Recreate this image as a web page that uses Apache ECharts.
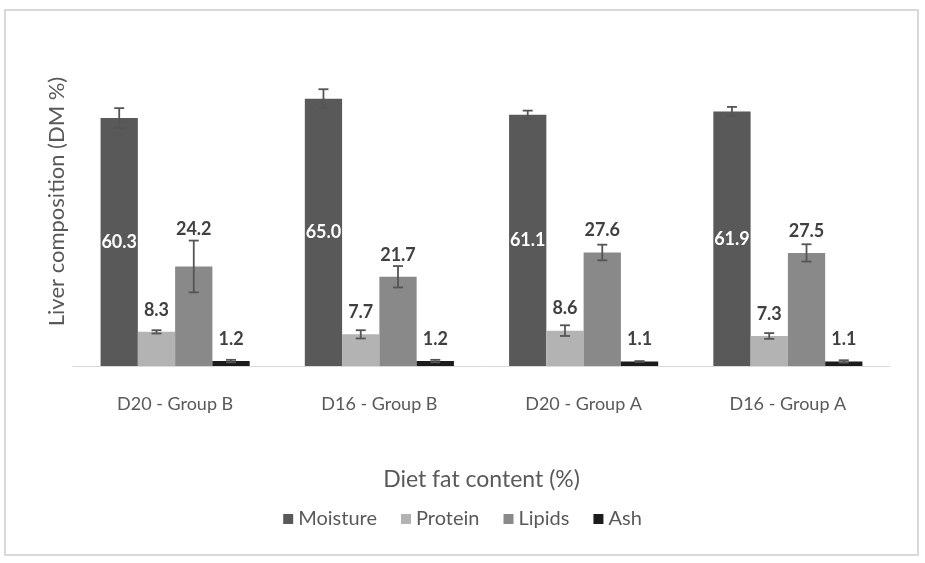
<!DOCTYPE html>
<html>
<head>
<meta charset="utf-8">
<script src="https://cdn.jsdelivr.net/npm/echarts@6/dist/echarts.min.js"></script>
<style>
  html, body { margin: 0; padding: 0; background: #fff; }
  #chart { width: 925px; height: 563px; }
</style>
</head>
<body>
<div id="chart"></div>
<script>
// groups on the x axis
const groups = ['D20 - Group B', 'D16 - Group B', 'D20 - Group A', 'D16 - Group A'];

// liver composition values (DM %)
const moisture = [60.3, 65.0, 61.1, 61.9];
const protein = [8.3, 7.7, 8.6, 7.3];
const lipids = [24.2, 21.7, 27.6, 27.5];
const ash = [1.2, 1.2, 1.1, 1.1];

// error bar half-lengths
const moistureErr = [2.4, 2.3, 1.0, 1.1];
const proteinErr = [0.4, 1.0, 1.3, 0.7];
const lipidsErr = [6.3, 2.6, 1.9, 2.1];
const ashErr = [0.3, 0.3, 0.1, 0.3];

const names = ['Moisture', 'Protein', 'Lipids', 'Ash'];
const colors = ['#595959', '#b3b3b3', '#898989', '#1c1c1c'];
const values = [moisture, protein, lipids, ash];
const errors = [moistureErr, proteinErr, lipidsErr, ashErr];

const catGap = 0.27;
const font = 'Lato, "Open Sans", sans-serif';

let chart = echarts.init(document.getElementById('chart'));

function errorSeries(idx) {
  return {
    name: names[idx],
    type: 'custom',
    z: 5,
    silent: true,
    data: values[idx].map((v, j) => [j, v, errors[idx][j]]),
    renderItem: (params, api) => {
      let j = api.value(0), v = api.value(1), e = api.value(2);
      let band = api.size([1, 0])[0];
      let barW = band * (1 - catGap) / 4;
      let cx = api.coord([j, 0])[0] + (idx - 1.5) * barW;
      let yHi = api.coord([j, v + e])[1];
      let yLo = api.coord([j, v - e])[1];
      let yBar = api.coord([j, v])[1];
      let st = { stroke: '#555555', lineWidth: 1.8 };
      let kids = [
        { type: 'line', shape: { x1: cx, y1: yHi, x2: cx, y2: yLo }, style: st },
        { type: 'line', shape: { x1: cx - 5, y1: yHi, x2: cx + 5, y2: yHi }, style: st },
        { type: 'line', shape: { x1: cx - 5, y1: yLo, x2: cx + 5, y2: yLo }, style: st }
      ];
      if (idx > 0) {
        // label sits above the bar, or above the cap when the cap is higher
        kids.push({
          type: 'text',
          style: {
            text: v.toFixed(1),
            x: cx,
            y: Math.min(yBar - 22, yHi - 11),
            align: 'center',
            verticalAlign: 'middle',
            fill: '#404040',
            font: 'bold 18px ' + font
          }
        });
      }
      return { type: 'group', children: kids };
    }
  };
}

let barSeries = names.map((n, i) => ({
  name: n,
  type: 'bar',
  barGap: 0,
  barCategoryGap: (catGap * 100) + '%',
  itemStyle: { color: colors[i] },
  label: i === 0 ? {
    show: true,
    position: 'inside',
    color: '#fff',
    fontWeight: 'bold',
    fontSize: 18,
    fontFamily: font,
    formatter: (p) => p.value.toFixed(1)
  } : { show: false },
  data: values[i]
}));

let option = {
  animation: false,
  backgroundColor: '#fff',
  graphic: [{
    type: 'rect',
    shape: { x: 5, y: 10, width: 913, height: 545 },
    style: { fill: 'none', stroke: '#d9d9d9', lineWidth: 2 },
    silent: true
  }],
  legend: {
    data: names,
    bottom: 29,
    left: 'center',
    icon: 'rect',
    itemWidth: 10,
    itemHeight: 10,
    itemGap: 24,
    textStyle: { color: '#595959', fontSize: 20, fontFamily: font }
  },
  grid: { left: 73, right: 35, top: 37, bottom: 197 },
  xAxis: {
    type: 'category',
    data: groups,
    axisTick: { show: false },
    axisLine: { lineStyle: { color: '#d9d9d9', width: 1 } },
    axisLabel: { color: '#595959', fontSize: 18, fontFamily: font, margin: 29 },
    name: 'Diet fat content (%)',
    nameLocation: 'middle',
    nameGap: 102,
    nameTextStyle: { color: '#595959', fontSize: 23, fontFamily: font }
  },
  yAxis: {
    type: 'value',
    min: 0,
    max: 80,
    axisLine: { show: false },
    axisTick: { show: false },
    axisLabel: { show: false },
    splitLine: { show: false },
    name: 'Liver composition (DM %)',
    nameLocation: 'middle',
    nameRotate: 90,
    nameGap: 5,
    nameTextStyle: { color: '#595959', fontSize: 22, fontFamily: font }
  },
  series: barSeries.concat(names.map((n, i) => errorSeries(i)))
};

chart.setOption(option);
</script>
</body>
</html>
